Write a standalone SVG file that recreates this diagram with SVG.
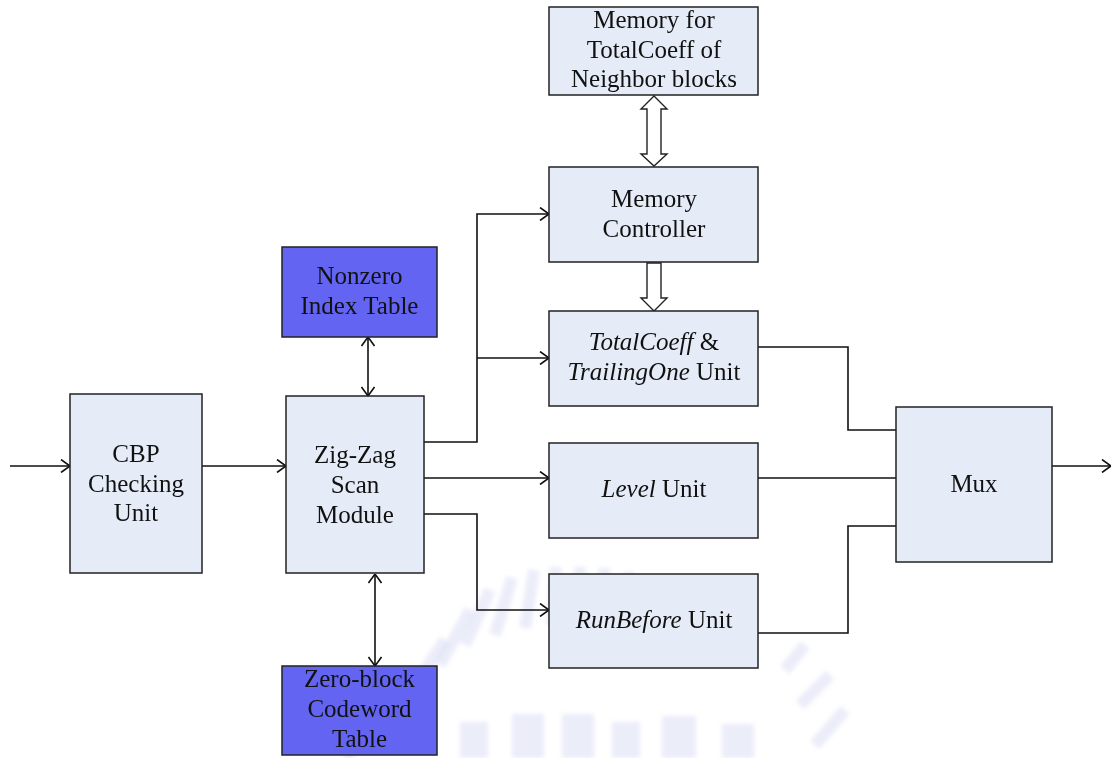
<svg xmlns="http://www.w3.org/2000/svg" width="1113" height="758" viewBox="0 0 1113 758">
  <style>
    .box { fill: #e6ecf7; stroke: #222; stroke-width: 1.5; }
    .table { fill: #6464f2; stroke: #222; stroke-width: 1.5; }
    .lbl { font-family: "Liberation Serif", "Times New Roman", serif; font-size: 25px; fill: #111; text-anchor: middle; }
    .it { font-style: italic; }
    .wire { fill: none; stroke: #111; stroke-width: 1.6; }
    .bus { fill: #fff; stroke: #222; stroke-width: 1.4; stroke-linejoin: miter; }
    .wm { stroke: #d3d8f2; stroke-width: 12; fill: none; opacity: 0.45; }
    .wmb { fill: #d3d8f2; opacity: 0.45; }
  </style>
  <defs>
    <marker id="open" viewBox="0 0 10 14" refX="10" refY="7" markerWidth="10" markerHeight="14" markerUnits="userSpaceOnUse" orient="auto-start-reverse">
      <path d="M1,0.5 L10,7 L1,13.5" fill="none" stroke="#111" stroke-width="1.6"/>
    </marker>
    <filter id="soft"><feGaussianBlur stdDeviation="2"/></filter>
  </defs>

  <rect width="1113" height="758" fill="#fff"/>

  <!-- faint emblem in the background -->
  <g id="emblem" filter="url(#soft)">
    <line class="wm" x1="345" y1="758" x2="395" y2="700"/>
    <line class="wm" x1="380" y1="740" x2="420" y2="670"/>
    <line class="wm" x1="405" y1="700" x2="445" y2="640"/>
    <line class="wm" x1="440" y1="665" x2="470" y2="610"/>
    <line class="wm" x1="465" y1="645" x2="490" y2="590"/>
    <line class="wm" x1="495" y1="635" x2="512" y2="578"/>
    <line class="wm" x1="525" y1="628" x2="534" y2="570"/>
    <line class="wm" x1="552" y1="625" x2="556" y2="567"/>
    <line class="wm" x1="580" y1="625" x2="580" y2="567"/>
    <line class="wm" x1="608" y1="626" x2="604" y2="568"/>
    <line class="wm" x1="636" y1="630" x2="628" y2="572"/>
    <line class="wm" x1="785" y1="670" x2="805" y2="645"/>
    <line class="wm" x1="800" y1="705" x2="830" y2="675"/>
    <line class="wm" x1="815" y1="745" x2="845" y2="710"/>
    <rect class="wmb" x="460" y="722" width="28" height="36"/>
    <rect class="wmb" x="512" y="714" width="32" height="44"/>
    <rect class="wmb" x="562" y="714" width="32" height="44"/>
    <rect class="wmb" x="612" y="722" width="28" height="36"/>
    <rect class="wmb" x="662" y="716" width="34" height="42"/>
    <rect class="wmb" x="722" y="724" width="32" height="34"/>
  </g>

  <!-- connectors -->
  <g id="connectors">
    <line class="wire" x1="10" y1="466" x2="70" y2="466" marker-end="url(#open)"/>
    <line class="wire" x1="202" y1="466" x2="286" y2="466" marker-end="url(#open)"/>
    <line class="wire" x1="368" y1="337" x2="368" y2="396" marker-start="url(#open)" marker-end="url(#open)"/>
    <line class="wire" x1="375" y1="574" x2="375" y2="666" marker-start="url(#open)" marker-end="url(#open)"/>
    <polyline class="wire" points="424,442 477,442 477,214 549,214" marker-end="url(#open)"/>
    <line class="wire" x1="477" y1="358" x2="549" y2="358" marker-end="url(#open)"/>
    <line class="wire" x1="424" y1="478" x2="549" y2="478" marker-end="url(#open)"/>
    <polyline class="wire" points="424,514 477,514 477,610 549,610" marker-end="url(#open)"/>
    <polyline class="wire" points="758,347 848,347 848,430 896,430"/>
    <line class="wire" x1="758" y1="478" x2="896" y2="478"/>
    <polyline class="wire" points="758,633 848,633 848,526 896,526"/>
    <line class="wire" x1="1052" y1="466" x2="1111" y2="466" marker-end="url(#open)"/>
    <!-- wide data buses -->
    <path class="bus" d="M654,96 L667,109 L661,109 L661,154 L667,154 L654,166 L641,154 L647,154 L647,109 L641,109 Z"/>
    <path class="bus" d="M647,263 L661,263 L661,298 L667,298 L654,311 L641,298 L647,298 Z"/>
  </g>

  <g id="mem-neighbor">
    <rect class="box" x="549" y="7" width="209" height="88"/>
    <text class="lbl" x="654" y="28">Memory for</text>
    <text class="lbl" x="654" y="57.5">TotalCoeff of</text>
    <text class="lbl" x="654" y="87">Neighbor blocks</text>
  </g>

  <g id="mem-controller">
    <rect class="box" x="549" y="167" width="209" height="95"/>
    <text class="lbl" x="654" y="207">Memory</text>
    <text class="lbl" x="654" y="237">Controller</text>
  </g>

  <g id="totalcoeff-unit">
    <rect class="box" x="549" y="311" width="209" height="95"/>
    <text class="lbl" x="654" y="350"><tspan class="it">TotalCoeff</tspan> &amp;</text>
    <text class="lbl" x="654" y="380"><tspan class="it">TrailingOne</tspan> Unit</text>
  </g>

  <g id="level-unit">
    <rect class="box" x="549" y="443" width="209" height="95"/>
    <text class="lbl" x="654" y="497"><tspan class="it">Level</tspan> Unit</text>
  </g>

  <g id="runbefore-unit">
    <rect class="box" x="549" y="574" width="209" height="94"/>
    <text class="lbl" x="654" y="628"><tspan class="it">RunBefore</tspan> Unit</text>
  </g>

  <g id="nonzero-table">
    <rect class="table" x="282" y="247" width="155" height="90"/>
    <text class="lbl" x="359.5" y="284">Nonzero</text>
    <text class="lbl" x="359.5" y="314">Index Table</text>
  </g>

  <g id="zigzag">
    <rect class="box" x="286" y="396" width="138" height="177"/>
    <text class="lbl" x="355" y="463">Zig-Zag</text>
    <text class="lbl" x="355" y="493">Scan</text>
    <text class="lbl" x="355" y="523">Module</text>
  </g>

  <g id="zeroblock-table">
    <rect class="table" x="282" y="666" width="155" height="89"/>
    <text class="lbl" x="359.5" y="687">Zero-block</text>
    <text class="lbl" x="359.5" y="717">Codeword</text>
    <text class="lbl" x="359.5" y="747">Table</text>
  </g>

  <g id="cbp">
    <rect class="box" x="70" y="394" width="132" height="179"/>
    <text class="lbl" x="136" y="462">CBP</text>
    <text class="lbl" x="136" y="492">Checking</text>
    <text class="lbl" x="136" y="521">Unit</text>
  </g>

  <g id="mux">
    <rect class="box" x="896" y="407" width="156" height="155"/>
    <text class="lbl" x="974" y="492">Mux</text>
  </g>
</svg>
